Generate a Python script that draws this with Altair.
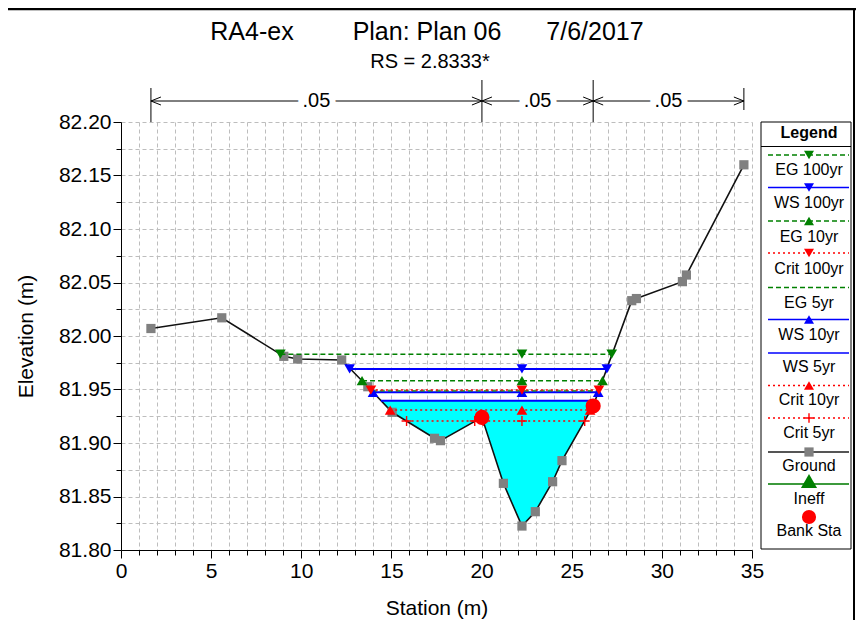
import altair as alt
import pandas as pd

FONT = "Liberation Sans"

# ---------------- data ----------------
ground_station = [1.66, 5.59, 9.03, 9.80, 12.24, 13.69, 15.04, 17.39, 17.72, 20.02,
                  21.21, 22.24, 22.98, 23.94, 24.46, 26.19, 28.33, 28.59, 31.14, 31.36, 34.55]
ground_elev = [82.007, 82.017, 81.981, 81.9785, 81.9776, 81.9526, 81.9287, 81.9044, 81.9022, 81.924,
               81.8623, 81.8224, 81.8358, 81.8638, 81.8835, 81.9346, 82.033, 82.035, 82.0508, 82.057, 82.160]

bank_station = [20.02, 26.19]
bank_elev = [81.924, 81.9346]

# water surface profiles (legend order)
profile_names = ["EG 100yr", "WS 100yr", "EG 10yr", "Crit 100yr", "EG 5yr",
                 "WS 10yr", "WS 5yr", "Crit 10yr", "Crit 5yr"]
profile_elev = [81.983, 81.9692, 81.9582, 81.9495, 81.9487, 81.9474, 81.9396, 81.9308, 81.9206]
profile_left = [8.84, 12.68, 13.37, 13.86, 13.91, 13.98, 14.42, 14.93, 15.84]
profile_right = [27.22, 26.95, 26.71, 26.51, 26.49, 26.47, 26.30, 26.02, 25.72]
thalweg_station = 22.24
# Crit 5yr is split by the left bank hump
crit5_gap = [19.62, 20.09]

# cyan water fill (WS 5yr) polygon along the ground
fill_station = [14.42, 15.04, 17.39, 17.72, 20.02, 21.21, 22.24, 22.98, 23.94, 24.46, 26.19, 26.30]
fill_ground = [81.9396, 81.9287, 81.9044, 81.9022, 81.924, 81.8623, 81.8224, 81.8358, 81.8638,
               81.8835, 81.9346, 81.9396]
fill_level = 81.9396

# Manning's n breaks
n_breaks = [1.66, 20.02, 26.19, 34.55]
n_values = [".05", ".05", ".05"]

# ---------------- styles ----------------
KIND = {"EG": dict(color="#008000", dash=[5, 3], width=1.4),
        "WS": dict(color="#0000FF", dash=None, width=2),
        "Crit": dict(color="#FF0000", dash=[2, 3], width=1.5)}
PLUS = "M-1,0L1,0M0,-1L0,1"
profile_shape = ["triangle-down", "triangle-down", "triangle-up", "triangle-down", None,
                 "triangle-up", None, "triangle-up", "plus"]
TRI = 115

xs = alt.Scale(domain=[0, 35], nice=False, zero=False)
ys = alt.Scale(domain=[81.8, 82.2], nice=False, zero=False)

common_axis = dict(grid=True, gridColor="#bdbdbd", gridDash=[4, 3], gridWidth=1,
                   domainColor="black", tickColor="black", labelColor="black", titleColor="black",
                   labelFont=FONT, labelFontSize=21, titleFont=FONT, titleFontSize=21,
                   titleFontWeight="normal", labelPadding=2, labelOverlap=False, labelFlush=False)
xaxis = alt.Axis(title="Station (m)", values=list(range(36)), format="d",
                 labelExpr="datum.value % 5 == 0 ? datum.label : ''",
                 tickSize={"condition": {"test": "datum.value % 5 == 0", "value": 8}, "value": 5},
                 titlePadding=16, **common_axis)
yvals = [round(81.8 + 0.025 * i, 3) for i in range(17)]
yaxis = alt.Axis(title="Elevation (m)", values=yvals,
                 labelExpr="round(datum.value*40) % 2 == 0 ? format(datum.value, '.2f') : ''",
                 tickSize={"condition": {"test": "round(datum.value*40) % 2 == 0", "value": 8}, "value": 5},
                 titlePadding=22, **common_axis)


def X(f):
    return alt.X(f, type="quantitative", scale=xs, axis=xaxis)


def Y(f):
    return alt.Y(f, type="quantitative", scale=ys, axis=yaxis)


layers = []

# water fill
fill_df = pd.DataFrame({"x": fill_station, "y": fill_ground, "lev": [fill_level] * len(fill_station)})
layers.append(alt.Chart(fill_df).mark_area(color="#00FFFF", opacity=1, interpolate="linear")
              .encode(x=X("x"), y=Y("y"), y2=alt.Y2("lev")))

# ground line + squares
gdf = pd.DataFrame({"x": ground_station, "y": ground_elev})
layers.append(alt.Chart(gdf).mark_line(color="#111111", strokeWidth=1.6).encode(x=X("x"), y=Y("y")))
layers.append(alt.Chart(gdf).mark_point(shape="square", filled=True, size=85, color="#808080", opacity=1)
              .encode(x=X("x"), y=Y("y")))

# water surface lines (draw lowest first)
for i in reversed(range(len(profile_names))):
    name = profile_names[i]
    st = KIND[name.split()[0]]
    kw = dict(color=st["color"], strokeWidth=st["width"])
    if st["dash"]:
        kw["strokeDash"] = st["dash"]
    if name == "Crit 5yr":
        segs = pd.DataFrame({"a": [profile_left[i], crit5_gap[1]], "b": [crit5_gap[0], profile_right[i]],
                             "y": [profile_elev[i]] * 2})
    else:
        segs = pd.DataFrame({"a": [profile_left[i]], "b": [profile_right[i]], "y": [profile_elev[i]]})
    layers.append(alt.Chart(segs).mark_rule(**kw).encode(x=X("a"), x2=alt.X2("b"), y=Y("y")))

# profile markers
for i in reversed(range(len(profile_names))):
    shape = profile_shape[i]
    if shape is None:
        continue
    name = profile_names[i]
    st = KIND[name.split()[0]]
    pts = [profile_left[i], thalweg_station, profile_right[i]]
    if name == "Crit 5yr":
        pts = pts + crit5_gap
    mdf = pd.DataFrame({"x": pts, "y": [profile_elev[i]] * len(pts)})
    if shape == "plus":
        mk = alt.Chart(mdf).mark_point(shape=PLUS, filled=False, size=100, color=st["color"],
                                       strokeWidth=1.4, opacity=1)
    else:
        mk = alt.Chart(mdf).mark_point(shape=shape, filled=True, size=TRI, color=st["color"], opacity=1)
    layers.append(mk.encode(x=X("x"), y=Y("y")))

# bank stations
bdf = pd.DataFrame({"x": bank_station, "y": bank_elev})
layers.append(alt.Chart(bdf).mark_point(shape="circle", filled=True, size=230, color="#FF0000", opacity=1)
              .encode(x=X("x"), y=Y("y")))

# Manning's n bar above the plot
ndf = pd.DataFrame({"x": n_breaks, "top": [-34, -42, -42, -34], "bot": [0, 0, 0, -12]})
layers.append(alt.Chart(ndf).mark_rule(color="black", strokeWidth=1)
              .encode(x=X("x"), y=alt.Y("top:Q", scale=None), y2=alt.Y2("bot")))
seg = pd.DataFrame({"a": n_breaks[:-1], "b": n_breaks[1:], "lab": n_values})
seg["m"] = (seg["a"] + seg["b"]) / 2
layers.append(alt.Chart(seg).mark_rule(color="black", strokeWidth=1)
              .encode(x=X("a"), x2=alt.X2("b"), y=alt.value(-21)))
layers.append(alt.Chart(seg).mark_point(shape="M1,-0.8L-1,0L1,0.8", filled=False, size=100, color="black",
                                        strokeWidth=1, opacity=1, xOffset=5)
              .encode(x=X("a"), y=alt.value(-21)))
layers.append(alt.Chart(seg).mark_point(shape="M-1,-0.8L1,0L-1,0.8", filled=False, size=100, color="black",
                                        strokeWidth=1, opacity=1, xOffset=-5)
              .encode(x=X("b"), y=alt.value(-21)))
layers.append(alt.Chart(seg).mark_text(font=FONT, fontSize=20, color="white", stroke="white", strokeWidth=12,
                                       baseline="middle", align="center")
              .encode(x=X("m"), y=alt.value(-21), text="lab:N"))
layers.append(alt.Chart(seg).mark_text(font=FONT, fontSize=20, color="black", baseline="middle", align="center")
              .encode(x=X("m"), y=alt.value(-21), text="lab:N"))

one = pd.DataFrame({"k": [0]})


def deco_text(s, x, y, size, weight="normal"):
    return (alt.Chart(one).mark_text(text=s, font=FONT, fontSize=size, fontWeight=weight, color="black",
                                     align="center", baseline="middle")
            .encode(x=alt.value(x), y=alt.value(y)))


# titles
layers.append(deco_text("RA4-ex", 131, -90, 25))
layers.append(deco_text("Plan: Plan 06", 306, -90, 25))
layers.append(deco_text("7/6/2017", 474, -90, 25))
layers.append(deco_text("RS = 2.8333*", 309, -60, 20))

# window frame lines
layers.append(alt.Chart(one).mark_rule(color="black", strokeWidth=2.5)
              .encode(x=alt.value(-121), x2=alt.value(735), y=alt.value(-113)))
layers.append(alt.Chart(one).mark_rule(color="black", strokeWidth=2)
              .encode(x=alt.value(733), y=alt.value(-113), y2=alt.value(520)))

# ---------------- legend ----------------
LX0, LX1, LXC = 640, 730, 688
layers.append(alt.Chart(one).mark_rect(fill="white", stroke="black", strokeWidth=1)
              .encode(x=alt.value(LX0), x2=alt.value(LX1), y=alt.value(0), y2=alt.value(427)))
layers.append(alt.Chart(one).mark_rule(color="black", strokeWidth=1)
              .encode(x=alt.value(LX0), x2=alt.value(LX1), y=alt.value(24.5)))
layers.append(deco_text("Legend", LXC, 11, 16, "bold"))

leg_line_y = [33, 65.5, 99, 131, 165.5, 197.5, 231, 263.5, 296, 330, 362, 395]
leg_text_y = [48, 80.5, 114.5, 146.5, 180.5, 212.5, 245, 278, 311, 344, 377, 409]
leg_names = profile_names + ["Ground", "Ineff", "Bank Sta"]

for i, name in enumerate(leg_names):
    ly, ty = leg_line_y[i], leg_text_y[i]
    if i < len(profile_names):
        st = KIND[name.split()[0]]
        kw = dict(color=st["color"], strokeWidth=1.5)
        if st["dash"]:
            kw["strokeDash"] = st["dash"]
        layers.append(alt.Chart(one).mark_rule(**kw)
                      .encode(x=alt.value(647), x2=alt.value(728), y=alt.value(ly)))
        shape = profile_shape[i]
        if shape == "plus":
            layers.append(alt.Chart(one).mark_point(shape=PLUS, filled=False, size=90, color=st["color"],
                                                    strokeWidth=1.4, opacity=1)
                          .encode(x=alt.value(LXC), y=alt.value(ly)))
        elif shape:
            layers.append(alt.Chart(one).mark_point(shape=shape, filled=True, size=100, color=st["color"], opacity=1)
                          .encode(x=alt.value(LXC), y=alt.value(ly)))
    elif name == "Ground":
        layers.append(alt.Chart(one).mark_rule(color="#555555", strokeWidth=2)
                      .encode(x=alt.value(647), x2=alt.value(728), y=alt.value(ly)))
        layers.append(alt.Chart(one).mark_point(shape="square", filled=True, size=85, color="#808080", opacity=1)
                      .encode(x=alt.value(LXC), y=alt.value(ly)))
    elif name == "Ineff":
        layers.append(alt.Chart(one).mark_rule(color="#3c9a3c", strokeWidth=2)
                      .encode(x=alt.value(647), x2=alt.value(728), y=alt.value(ly)))
        layers.append(alt.Chart(one).mark_point(shape="triangle-up", filled=True, size=260, color="#008000", opacity=1)
                      .encode(x=alt.value(LXC), y=alt.value(ly - 3)))
    else:
        layers.append(alt.Chart(one).mark_point(shape="circle", filled=True, size=200, color="#FF0000", opacity=1)
                      .encode(x=alt.value(LXC), y=alt.value(ly)))
    layers.append(deco_text(name, LXC, ty, 16))

chart = (alt.layer(*layers)
         .properties(width=631, height=428,
                     autosize=alt.AutoSizeParams(type="none"),
                     padding={"left": 113, "top": 114, "right": 105, "bottom": 70})
         .configure_view(strokeWidth=0))

chart.save("out.html", embed_options={"renderer": "svg", "actions": False})
